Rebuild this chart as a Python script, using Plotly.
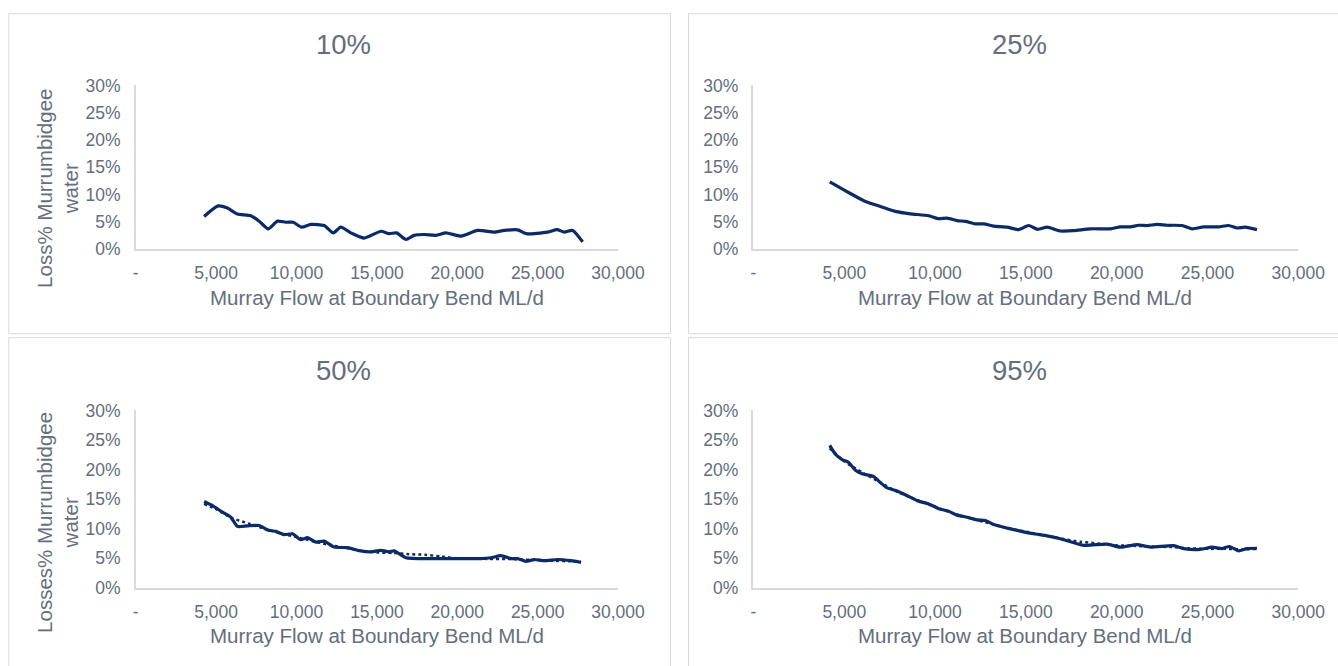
import plotly.graph_objects as go

# ---------------- data ----------------
titles = ["10%", "25%", "50%", "95%"]
x_tick_vals = [0, 5000, 10000, 15000, 20000, 25000, 30000]
x_tick_text = ["-", "5,000", "10,000", "15,000", "20,000", "25,000", "30,000"]
y_tick_vals = [0, 5, 10, 15, 20, 25, 30]
y_tick_text = ["0%", "5%", "10%", "15%", "20%", "25%", "30%"]
x_title = "Murray Flow at Boundary Bend ML/d"
y_title_top = "Loss% Murrumbidgee<br>water"
y_title_bottom = "Losses% Murrumbidgee<br>water"

p10_x = [4253, 5124, 5705, 6328, 7158, 7677, 8237, 8819, 9336, 9793, 10313, 10892, 11723,
         12282, 12760, 13382, 14212, 15249, 15768, 16224, 16805, 17320, 17942, 18672, 19295,
         20228, 21266, 22303, 22925, 23755, 24274, 25622, 26203, 26659, 27178, 27800]
p10_y = [5.96, 7.9, 7.5, 6.4, 6.1, 5.1, 3.7, 5.1, 4.9, 4.9, 4.0, 4.5, 4.3,
         2.95, 4.0, 2.95, 2.0, 3.25, 2.8, 2.95, 1.75, 2.5, 2.65, 2.5, 2.95,
         2.35, 3.4, 3.1, 3.4, 3.5, 2.8, 3.1, 3.55, 3.1, 3.4, 1.3]

p25_x = [4200, 5158, 6165, 6991, 7817, 8642, 9650, 10200, 10663, 11213, 11670, 12220, 12678,
         13228, 13966, 14604, 15155, 15650, 16168, 16900, 17632, 18552, 19652, 20203, 20753,
         21210, 21673, 22223, 22774, 23599, 24150, 24789, 25614, 26165, 26627, 27083, 27728]
p25_y = [12.3, 10.5, 8.7, 7.8, 6.9, 6.45, 6.1, 5.55, 5.65, 5.2, 5.05, 4.6, 4.6,
         4.2, 4.0, 3.55, 4.3, 3.6, 4.0, 3.3, 3.35, 3.7, 3.7, 4.05, 4.05,
         4.35, 4.3, 4.5, 4.35, 4.3, 3.7, 4.05, 4.05, 4.3, 3.85, 4.0, 3.55]

p50_x = [4253, 4773, 5394, 5913, 6328, 6950, 7677, 8196, 8714, 9232, 9751, 10270, 10685,
         11203, 11722, 12344, 13174, 13900, 14627, 15249, 15768, 16079, 16805, 18361, 19813,
         21473, 22095, 22718, 23340, 23755, 24274, 24793, 25415, 26245, 27075, 27697]
p50_y = [14.6, 13.9, 12.8, 11.95, 10.4, 10.5, 10.55, 9.8, 9.55, 9.0, 9.15, 8.15, 8.5,
         7.75, 7.9, 6.9, 6.8, 6.3, 6.1, 6.35, 6.1, 6.25, 5.1, 4.95, 4.95,
         4.95, 5.1, 5.45, 4.95, 4.95, 4.5, 4.8, 4.6, 4.8, 4.6, 4.3]
p50_trend_x = [4253, 5000, 6000, 7000, 8000, 9000, 10000, 11000, 12000, 13000, 14000, 15000,
               16000, 17000, 18000, 19000, 20000, 21000, 22000, 23000, 24000, 25000, 26000,
               27000, 27700]
p50_trend_y = [14.2, 13.3, 11.8, 10.9, 10.0, 9.2, 8.6, 7.9, 7.3, 6.8, 6.3, 6.0,
               5.9, 5.7, 5.6, 5.3, 5.0, 4.95, 4.9, 4.9, 4.8, 4.7, 4.6, 4.5, 4.4]

p95_x = [4200, 4514, 4883, 5246, 5615, 5984, 6623, 6991, 7360, 7911, 8461, 9012, 9650,
         10200, 10751, 11213, 11764, 12315, 12772, 13228, 13966, 14698, 15431, 16168, 16900,
         18183, 19471, 20203, 21122, 21855, 23137, 23688, 24607, 25251, 25802, 26220, 26716,
         27178, 27728]
p95_y = [24.1, 22.6, 21.7, 21.2, 19.9, 19.3, 18.8, 17.8, 16.9, 16.4, 15.6, 14.75, 14.2,
         13.4, 12.95, 12.3, 11.95, 11.5, 11.4, 10.7, 10.1, 9.6, 9.15, 8.8, 8.3,
         7.2, 7.4, 6.9, 7.3, 6.9, 7.15, 6.65, 6.5, 6.9, 6.65, 7.0, 6.25, 6.65, 6.7]
p95_trend_x = [4200, 5000, 6000, 7000, 8000, 9000, 10000, 11000, 12000, 13000, 14000, 15000,
               16000, 17000, 18000, 19000, 20000, 21000, 22000, 23000, 24000, 25000, 26000,
               27000, 27700]
p95_trend_y = [23.6, 21.4, 19.5, 17.8, 16.1, 14.9, 13.7, 12.6, 11.7, 10.9, 10.1, 9.5,
               8.9, 8.3, 7.8, 7.5, 7.2, 7.1, 7.0, 6.9, 6.7, 6.6, 6.6, 6.5, 6.6]

# ---------------- style ----------------
W, H = 1338, 666
LINE = "#0b2a66"
TEXT = "#646e7d"
AXIS = "#d9d9d9"
FONT = "Liberation Sans, Arial, sans-serif"


def px(x):
    # layout position (pixels, left) -> paper x
    return ((x - 2.2) / 0.978) / W


def py(y):
    # layout position (pixels, top) -> paper y
    return 1 - ((y - 8.3) / 0.973) / H


fig = go.Figure()

panels = [
    ("", (135, 617.5), (84, 248), (8, 12, 670, 333), (343, 43), (376, 297), (y_title_top, 57, 187)),
    ("2", (753, 1298), (84, 248), (688, 12, 1400, 333), (1019, 43), (1025, 297), None),
    ("3", (135, 617.5), (410, 588), (8, 337, 670, 720), (343, 370), (376, 636), (y_title_bottom, 57, 522)),
    ("4", (753, 1298), (410, 588), (688, 337, 1400, 720), (1019, 370), (1025, 636), None),
]

series = [
    [(p10_x, p10_y, "solid")],
    [(p25_x, p25_y, "solid")],
    [(p50_trend_x, p50_trend_y, "dot"), (p50_x, p50_y, "solid")],
    [(p95_trend_x, p95_trend_y, "dot"), (p95_x, p95_y, "solid")],
]

annotations = []
shapes = []
for i, (aid, xd, yd, box, tc, xtc, yt) in enumerate(panels):
    xa = "x" + aid
    ya = "y" + aid
    for sx, sy, dash in series[i]:
        fig.add_trace(go.Scatter(
            x=sx, y=sy, mode="lines", xaxis=xa, yaxis=ya, showlegend=False,
            line=dict(color=LINE, width=3.2 if dash == "solid" else 2.5, dash=dash,
                      shape="spline", smoothing=0.6),
            hoverinfo="skip"))
    xkey = "xaxis" + aid
    ykey = "yaxis" + aid
    fig.layout[xkey] = dict(
        domain=[px(xd[0]), px(xd[1])], range=[0, 30000], anchor=ya,
        tickvals=x_tick_vals, ticktext=x_tick_text, showgrid=False, zeroline=False,
        showline=True, linecolor=AXIS, linewidth=1.5,
        ticks="outside", ticklen=7, tickcolor="rgba(0,0,0,0)",
        tickfont=dict(family=FONT, size=17.5, color=TEXT), fixedrange=True)
    fig.layout[ykey] = dict(
        domain=[py(yd[1]), py(yd[0])], range=[0, 30], anchor=xa,
        tickvals=y_tick_vals, ticktext=y_tick_text, showgrid=False, zeroline=False,
        showline=True, linecolor=AXIS, linewidth=1.5,
        ticks="outside", ticklen=10, tickcolor="rgba(0,0,0,0)",
        tickfont=dict(family=FONT, size=17.5, color=TEXT), fixedrange=True)
    shapes.append(dict(type="rect", xref="paper", yref="paper",
                       x0=px(box[0]), x1=px(box[2]), y0=py(box[3]), y1=py(box[1]),
                       line=dict(color=AXIS, width=1), fillcolor="rgba(0,0,0,0)", layer="below"))
    annotations.append(dict(text=titles[i], xref="paper", yref="paper",
                            x=px(tc[0]), y=py(tc[1]), xanchor="center", yanchor="middle",
                            showarrow=False, font=dict(family=FONT, size=27.5, color=TEXT)))
    annotations.append(dict(text=x_title, xref="paper", yref="paper",
                            x=px(xtc[0]), y=py(xtc[1]), xanchor="center", yanchor="middle",
                            showarrow=False, font=dict(family=FONT, size=20.5, color=TEXT)))
    if yt is not None:
        annotations.append(dict(text=yt[0], xref="paper", yref="paper",
                                x=px(yt[1]), y=py(yt[2]), xanchor="center", yanchor="middle",
                                textangle=-90, showarrow=False,
                                font=dict(family=FONT, size=20.5, color=TEXT)))

fig.update_layout(
    autosize=True, margin=dict(l=0, r=0, t=0, b=0),
    paper_bgcolor="white", plot_bgcolor="white",
    annotations=annotations, shapes=shapes, showlegend=False,
)

fig.write_html(
    "out.html",
    config={"displayModeBar": False, "responsive": True},
    default_width="100vw",
    default_height="100vh",
    post_script=(
        "document.documentElement.style.margin='0';"
        "document.body.style.margin='0';"
        "document.body.style.overflow='hidden';"
        "document.documentElement.style.overflow='hidden';"
        "var gd=document.getElementById('{plot_id}');"
        "gd.style.position='fixed';gd.style.left='0';gd.style.top='0';"
        "gd.style.width='100vw';gd.style.height='100vh';"
        "Plotly.Plots.resize(gd);"
    ),
)
